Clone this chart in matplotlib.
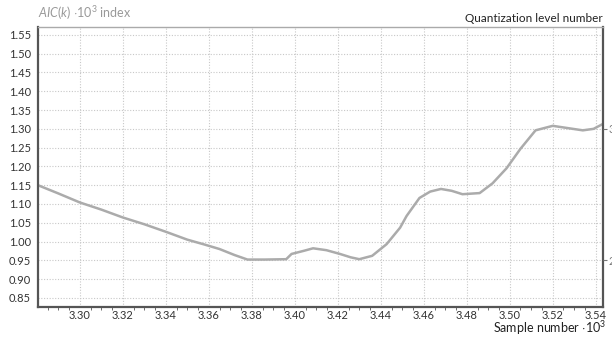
import numpy as np
import matplotlib
matplotlib.use('Agg')
import matplotlib.pyplot as plt
from matplotlib.ticker import MultipleLocator

# curve (sample number *1e3, AIC *1e3)
sample = [3.2805, 3.290, 3.300, 3.310, 3.320, 3.330, 3.340, 3.350, 3.358, 3.365,
          3.372, 3.378, 3.386, 3.396, 3.3985, 3.404, 3.4085, 3.4147, 3.421, 3.426,
          3.430, 3.436, 3.4427, 3.449, 3.452, 3.458, 3.463, 3.468, 3.473, 3.478,
          3.486, 3.492, 3.4985, 3.505, 3.512, 3.520, 3.527, 3.534, 3.539, 3.543]
aic = [1.150, 1.128, 1.104, 1.085, 1.064, 1.046, 1.026, 1.005, 0.992, 0.980,
       0.964, 0.952, 0.952, 0.953, 0.967, 0.975, 0.982, 0.977, 0.967, 0.958,
       0.953, 0.962, 0.993, 1.037, 1.068, 1.116, 1.133, 1.140, 1.135, 1.126,
       1.129, 1.155, 1.195, 1.247, 1.296, 1.308, 1.302, 1.296, 1.300, 1.312]

yticks = [0.85, 0.90, 0.95, 1.00, 1.05, 1.10, 1.15, 1.20, 1.25, 1.30, 1.35, 1.40, 1.45, 1.50, 1.55]
xticks = [3.30, 3.32, 3.34, 3.36, 3.38, 3.40, 3.42, 3.44, 3.46, 3.48, 3.50, 3.52, 3.54]
right_ticks = [0.95, 1.30]
right_labels = ['2', '3']

plt.rcParams['font.family'] = ['Lato', 'DejaVu Sans']
plt.rcParams['mathtext.fontset'] = 'custom'
plt.rcParams['mathtext.it'] = 'Lato:italic'
plt.rcParams['mathtext.rm'] = 'Lato'

fig = plt.figure(figsize=(6.12, 3.38), dpi=100)
ax = fig.add_axes([0.062, 0.092, 0.923, 0.828])

ax.plot(sample, aic, color='#ababab', lw=1.8)

ax.set_xlim(3.2805, 3.5433)
ax.set_ylim(0.826, 1.571)
ax.set_xticks(xticks)
ax.set_xticklabels(['%.2f' % v for v in xticks])
ax.set_yticks(yticks)
ax.set_yticklabels(['%.2f' % v for v in yticks])
ax.xaxis.set_minor_locator(MultipleLocator(0.005))
ax.tick_params(axis='both', which='major', labelsize=8, colors='#333333', length=0)
ax.tick_params(axis='x', which='major', pad=2)
ax.tick_params(axis='y', which='major', pad=5)
ax.tick_params(axis='x', which='minor', length=2, color='#555555')
ax.grid(True, which='major', color='#c8c8c8', linestyle=(0, (1, 1.5)), lw=0.8)

for s in ['left', 'bottom', 'right']:
    ax.spines[s].set_color('#555555')
    ax.spines[s].set_linewidth(1.6)
ax.spines['top'].set_color('#aaaaaa')
ax.spines['top'].set_linewidth(1.0)

# right side ticks, labels clipped by the figure edge
ax2 = ax.twinx()
ax2.set_ylim(ax.get_ylim())
ax2.set_yticks(right_ticks)
ax2.set_yticklabels(right_labels)
ax2.tick_params(axis='y', length=3, color='#777777', labelsize=8, labelcolor='#777777', pad=1)
for s in ax2.spines.values():
    s.set_visible(False)

fig.text(0.062, 0.962, r'$\mathit{AIC(k)}$ $\cdot$10$^3$ index', color='#999999', fontsize=9,
         ha='left', va='center')
fig.text(0.985, 0.945, 'Quantization level number', color='#222222', fontsize=8.5,
         ha='right', va='center')
fig.text(0.99, 0.002, r'Sample number $\cdot$10$^3$', color='#222222', fontsize=9,
         ha='right', va='bottom')

fig.savefig('out.png', dpi=100)
